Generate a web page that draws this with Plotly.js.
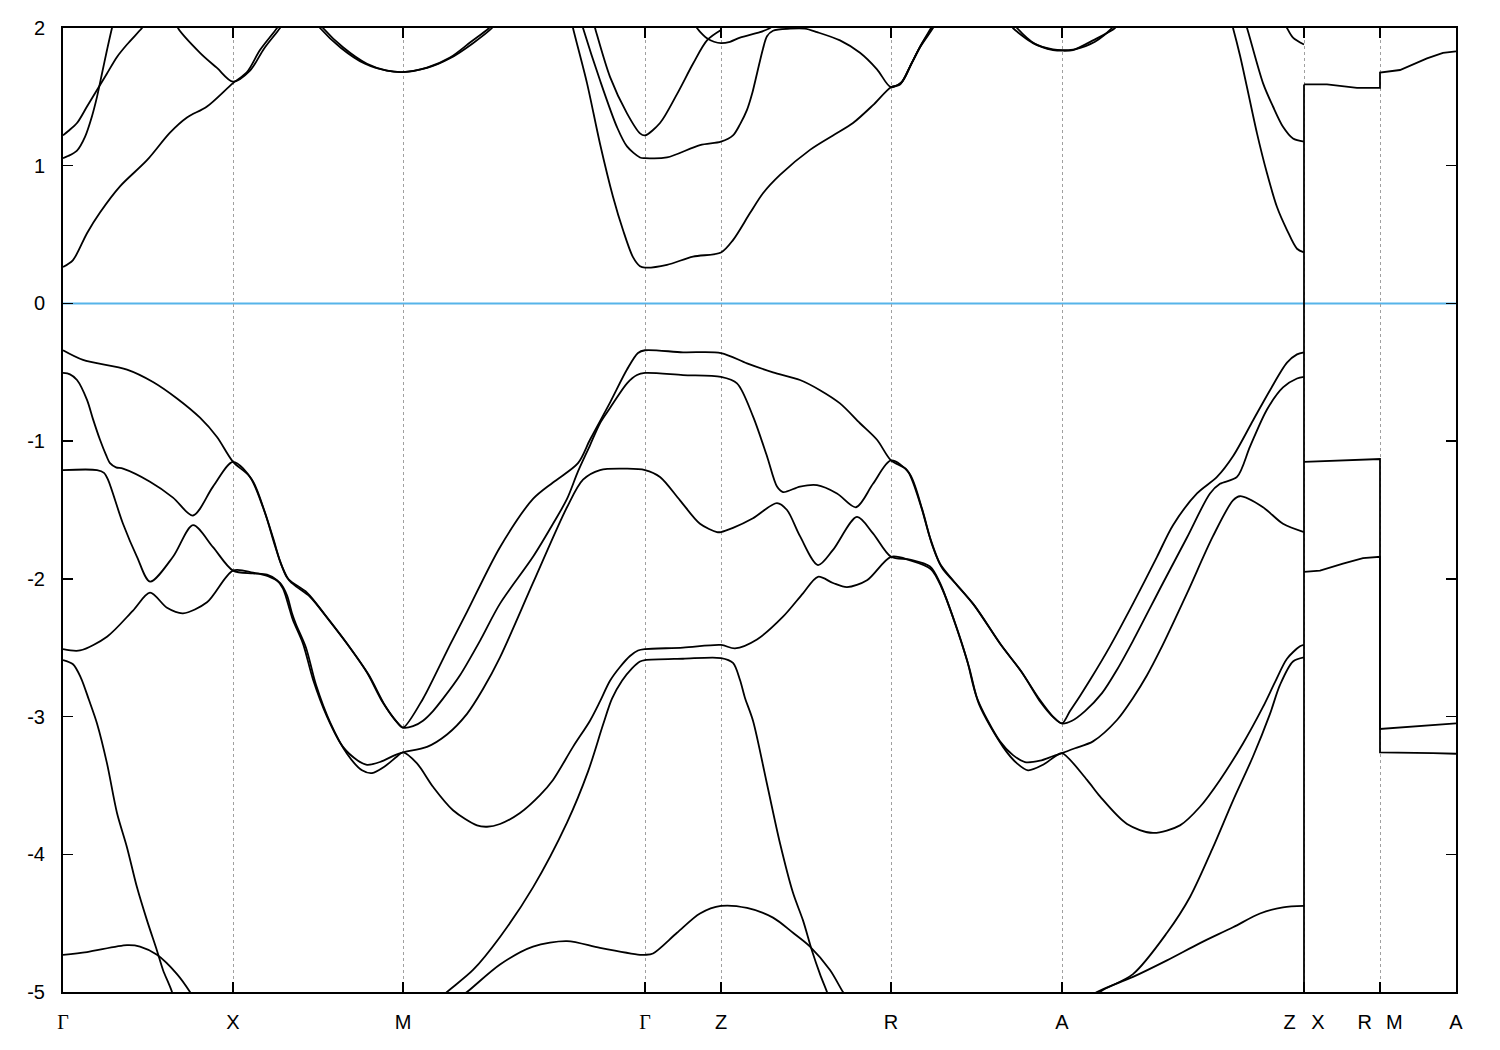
<!DOCTYPE html>
<html>
<head>
<meta charset="utf-8">
<script src="https://cdn.plot.ly/plotly-3.0.1.min.js"></script>
<style>html,body{margin:0;padding:0;background:#fff;}</style>
</head>
<body>
<div id="chart" style="width:1500px;height:1050px;"></div>
<script>
// ---- axis data ----
const kTicks = [0, 1.70, 3.40, 5.82, 6.58, 8.28, 9.99, 12.41, 13.17, 13.93];
const kLabels = ['<span style="font-family:Liberation Serif">Γ</span>','X','M','<span style="font-family:Liberation Serif">Γ</span>','Z','R','A','Z\u2002\u00a0X','R\u2002\u2009M','A'];
const eTicks = [-5, -4, -3, -2, -1, 0, 1, 2];
const eLabels = ['-5', '-4', '-3', '-2', '-1', '0', '1', '2'];
const fermiLevel = 0;

// ---- band segments: [k, E(eV)] ----
// Γ–X valence
const GX_v1 = [[0,-0.34],[0.20,-0.41],[0.64,-0.48],[0.90,-0.57],[1.14,-0.69],[1.37,-0.83],[1.54,-0.97],[1.70,-1.15]];
const GX_v2 = [[0,-0.505],[0.07,-0.515],[0.14,-0.556],[0.24,-0.70],[0.30,-0.84],[0.37,-0.99],[0.43,-1.10],[0.47,-1.16],[0.53,-1.19],[0.60,-1.20],[0.87,-1.295],[1.10,-1.41],[1.30,-1.54],[1.50,-1.33],[1.70,-1.15]];
const GX_v3 = [[0,-1.21],[0.34,-1.21],[0.41,-1.23],[0.45,-1.28],[0.60,-1.60],[0.74,-1.84],[0.87,-2.02],[1.10,-1.84],[1.30,-1.61],[1.50,-1.77],[1.70,-1.94]];
const GX_v4 = [[0,-2.51],[0.17,-2.52],[0.44,-2.42],[0.70,-2.23],[0.87,-2.10],[1.04,-2.21],[1.20,-2.25],[1.44,-2.17],[1.70,-1.94]];
const GX_v5 = [[0,-2.59],[0.10,-2.62],[0.18,-2.72],[0.26,-2.88],[0.34,-3.05],[0.44,-3.34],[0.54,-3.70],[0.64,-3.95],[0.74,-4.24],[0.84,-4.48],[0.94,-4.70],[1.00,-4.84],[1.09,-5.0],[1.12,-5.1]];
const GX_v6 = [[0,-4.73],[0.24,-4.71],[0.64,-4.66],[0.77,-4.67],[0.94,-4.73],[1.14,-4.87],[1.27,-5.0],[1.31,-5.05]];
// Γ–X conduction
const GX_c1 = [[0,0.265],[0.10,0.315],[0.24,0.51],[0.37,0.66],[0.57,0.85],[0.84,1.04],[1.07,1.24],[1.24,1.35],[1.44,1.43],[1.70,1.60]];
const GX_c2 = [[0,1.055],[0.05,1.07],[0.14,1.11],[0.22,1.21],[0.29,1.36],[0.34,1.50],[0.39,1.67],[0.44,1.84],[0.49,2.0],[0.52,2.08]];
const GX_c3 = [[0,1.22],[0.05,1.25],[0.14,1.31],[0.24,1.43],[0.34,1.55],[0.44,1.67],[0.54,1.79],[0.64,1.88],[0.79,2.0],[0.82,2.03]];
const GX_c4 = [[1.13,2.04],[1.15,2.0],[1.37,1.82],[1.54,1.71],[1.70,1.61]];
// X–M
const XM_c1 = [[1.70,1.61],[1.84,1.68],[1.97,1.84],[2.14,2.0],[2.17,2.04]];
const XM_c2 = [[1.70,1.61],[1.87,1.69],[2.01,1.85],[2.17,2.0],[2.20,2.04]];
const M_p1 = [[2.57,2.03],[2.60,2.0],[2.80,1.86],[3.04,1.74],[3.24,1.69],[3.40,1.68],[3.64,1.71],[3.87,1.78],[4.10,1.89],[4.29,2.0],[4.32,2.03]];
const M_p2 = [[2.54,2.03],[2.57,2.0],[2.78,1.855],[3.02,1.74],[3.24,1.69],[3.40,1.68],[3.64,1.712],[3.87,1.785],[4.08,1.90],[4.26,2.0],[4.29,2.03]];
const XM_v1a = [[1.70,-1.15],[1.87,-1.26],[2.00,-1.48],[2.10,-1.70],[2.17,-1.87],[2.24,-1.99],[2.30,-2.03],[2.44,-2.10],[2.64,-2.28],[2.87,-2.50],[3.04,-2.68],[3.20,-2.90],[3.34,-3.04],[3.40,-3.08]];
const XM_v1b = [[1.70,-1.15],[1.89,-1.28],[2.02,-1.52],[2.12,-1.76],[2.19,-1.91],[2.26,-2.01],[2.34,-2.06],[2.47,-2.13],[2.67,-2.31],[2.89,-2.52],[3.06,-2.70],[3.22,-2.92],[3.35,-3.05],[3.40,-3.08]];
const XM_v2a = [[1.70,-1.95],[1.90,-1.96],[2.04,-1.97],[2.14,-2.01],[2.20,-2.07],[2.27,-2.23],[2.30,-2.30],[2.40,-2.47],[2.50,-2.73],[2.64,-3.00],[2.80,-3.22],[2.95,-3.32],[3.04,-3.35],[3.17,-3.33],[3.32,-3.28],[3.40,-3.26]];
const XM_v2b = [[1.70,-1.95],[1.90,-1.955],[2.05,-1.98],[2.17,-2.03],[2.24,-2.12],[2.29,-2.25],[2.33,-2.33],[2.43,-2.50],[2.53,-2.77],[2.67,-3.04],[2.84,-3.27],[2.99,-3.39],[3.09,-3.41],[3.22,-3.36],[3.34,-3.29],[3.40,-3.26]];
// M–Γ
const MG_v1 = [[3.40,-3.08],[3.60,-2.87],[3.70,-2.73],[3.87,-2.48],[4.04,-2.24],[4.37,-1.77],[4.70,-1.42],[4.90,-1.30],[5.15,-1.16],[5.27,-0.99],[5.47,-0.72],[5.64,-0.48],[5.75,-0.36],[5.82,-0.34]];
const MG_v2 = [[3.40,-3.08],[3.50,-3.07],[3.60,-3.03],[3.70,-2.96],[3.80,-2.87],[3.97,-2.70],[4.17,-2.45],[4.37,-2.18],[4.70,-1.84],[4.90,-1.60],[5.04,-1.42],[5.15,-1.22],[5.27,-1.03],[5.37,-0.87],[5.47,-0.76],[5.64,-0.58],[5.74,-0.52],[5.82,-0.505]];
const MG_v3 = [[3.40,-3.26],[3.64,-3.22],[3.84,-3.13],[4.04,-2.98],[4.20,-2.80],[4.37,-2.57],[4.70,-2.03],[5.04,-1.48],[5.20,-1.28],[5.37,-1.21],[5.64,-1.20],[5.82,-1.21]];
const MG_v4 = [[3.40,-3.26],[3.54,-3.34],[3.70,-3.51],[3.90,-3.68],[4.14,-3.79],[4.24,-3.80],[4.37,-3.78],[4.57,-3.70],[4.77,-3.57],[4.90,-3.46],[5.10,-3.22],[5.27,-3.03],[5.37,-2.89],[5.47,-2.74],[5.57,-2.64],[5.67,-2.56],[5.75,-2.52],[5.82,-2.51]];
const MG_v5 = [[3.77,-5.05],[3.84,-5.0],[4.10,-4.84],[4.37,-4.60],[4.70,-4.24],[5.04,-3.77],[5.25,-3.40],[5.40,-3.06],[5.49,-2.87],[5.59,-2.74],[5.69,-2.65],[5.77,-2.60],[5.82,-2.59]];
const MG_v6 = [[3.94,-5.05],[4.04,-5.0],[4.37,-4.80],[4.70,-4.67],[5.04,-4.63],[5.37,-4.68],[5.77,-4.73],[5.82,-4.73]];
const MG_c1 = [[5.08,2.07],[5.10,2.0],[5.24,1.60],[5.37,1.16],[5.50,0.775],[5.60,0.533],[5.70,0.336],[5.77,0.27],[5.82,0.26]];
const MG_c2 = [[5.18,2.05],[5.20,2.0],[5.37,1.62],[5.54,1.28],[5.64,1.14],[5.77,1.06],[5.82,1.055]];
const MG_c3 = [[5.30,2.05],[5.32,2.0],[5.47,1.645],[5.64,1.38],[5.77,1.235],[5.82,1.22]];
// Γ–Z
const GZ_v1 = [[5.82,-0.34],[6.20,-0.355],[6.58,-0.36]];
const GZ_v2 = [[5.82,-0.505],[6.20,-0.52],[6.58,-0.534]];
const GZ_v3 = [[5.82,-1.21],[5.97,-1.26],[6.17,-1.43],[6.37,-1.60],[6.54,-1.66],[6.58,-1.66]];
const GZ_v4 = [[5.82,-2.51],[6.20,-2.50],[6.58,-2.48]];
const GZ_v5 = [[5.82,-2.59],[6.20,-2.58],[6.58,-2.575]];
const GZ_v6 = [[5.82,-4.73],[5.90,-4.72],[6.14,-4.57],[6.37,-4.43],[6.58,-4.375]];
const GZ_c1 = [[5.82,0.26],[6.04,0.28],[6.30,0.34],[6.58,0.37]];
const GZ_c2 = [[5.82,1.055],[6.04,1.06],[6.37,1.15],[6.58,1.175]];
const GZ_c3 = [[5.82,1.22],[5.97,1.31],[6.14,1.52],[6.30,1.74],[6.44,1.91],[6.58,1.985]];
const Z_top = [[6.32,2.03],[6.34,2.0],[6.40,1.95],[6.44,1.925],[6.51,1.90],[6.58,1.89],[6.67,1.90],[6.77,1.93],[6.97,1.97],[7.07,2.0],[7.10,2.02]];
// Z–R
const ZR_v1 = [[6.58,-0.36],[6.84,-0.435],[7.10,-0.50],[7.37,-0.556],[7.57,-0.63],[7.77,-0.726],[7.97,-0.87],[8.14,-0.99],[8.28,-1.14]];
const ZR_v2 = [[6.58,-0.534],[6.74,-0.58],[6.90,-0.82],[7.04,-1.11],[7.14,-1.33],[7.20,-1.37],[7.37,-1.33],[7.54,-1.32],[7.74,-1.38],[7.93,-1.48],[8.10,-1.31],[8.28,-1.14]];
const ZR_v3 = [[6.58,-1.66],[6.70,-1.63],[6.90,-1.56],[7.14,-1.45],[7.24,-1.50],[7.37,-1.69],[7.55,-1.90],[7.70,-1.79],[7.94,-1.55],[8.10,-1.67],[8.28,-1.84]];
const ZR_v4 = [[6.58,-2.48],[6.72,-2.505],[6.94,-2.44],[7.20,-2.275],[7.40,-2.105],[7.55,-1.985],[7.70,-2.03],[7.84,-2.06],[8.04,-2.01],[8.28,-1.84]];
const ZR_v5 = [[6.58,-2.575],[6.70,-2.61],[6.77,-2.735],[6.82,-2.865],[6.90,-3.03],[7.04,-3.49],[7.17,-3.92],[7.30,-4.28],[7.40,-4.48],[7.49,-4.70],[7.57,-4.87],[7.64,-5.0],[7.67,-5.06]];
const ZR_v6 = [[6.58,-4.375],[6.84,-4.39],[7.10,-4.46],[7.30,-4.57],[7.47,-4.67],[7.67,-4.84],[7.80,-5.0],[7.85,-5.05]];
const ZR_c1 = [[6.58,0.37],[6.70,0.46],[6.87,0.656],[7.00,0.80],[7.17,0.933],[7.47,1.115],[7.70,1.22],[7.90,1.31],[8.10,1.44],[8.28,1.57]];
const ZR_c2 = [[6.58,1.175],[6.70,1.22],[6.77,1.30],[6.84,1.405],[6.89,1.52],[6.94,1.67],[7.00,1.85],[7.04,1.94],[7.10,1.98],[7.27,1.995],[7.42,1.995],[7.54,1.97],[7.77,1.91],[7.97,1.82],[8.14,1.70],[8.28,1.57]];
// R–A
const RA_v1a = [[8.28,-1.14],[8.44,-1.21],[8.57,-1.45],[8.67,-1.70],[8.77,-1.89],[8.90,-2.01],[9.10,-2.18],[9.37,-2.47],[9.57,-2.66],[9.77,-2.88],[9.90,-3.00],[9.99,-3.05]];
const RA_v1b = [[8.28,-1.14],[8.46,-1.23],[8.59,-1.49],[8.69,-1.75],[8.79,-1.92],[8.92,-2.03],[9.12,-2.20],[9.39,-2.49],[9.59,-2.68],[9.78,-2.90],[9.91,-3.01],[9.99,-3.05]];
const RA_v2a = [[8.28,-1.84],[8.47,-1.86],[8.67,-1.91],[8.77,-2.03],[8.90,-2.28],[9.04,-2.59],[9.14,-2.865],[9.37,-3.18],[9.50,-3.28],[9.62,-3.33],[9.77,-3.32],[9.89,-3.29],[9.99,-3.265]];
const RA_v2b = [[8.28,-1.84],[8.47,-1.865],[8.68,-1.93],[8.79,-2.07],[8.92,-2.32],[9.06,-2.64],[9.16,-2.91],[9.40,-3.22],[9.54,-3.34],[9.65,-3.39],[9.80,-3.35],[9.92,-3.29],[9.99,-3.265]];
const RA_c1 = [[8.28,1.57],[8.37,1.59],[8.47,1.72],[8.57,1.86],[8.70,2.0],[8.73,2.04]];
const RA_c2 = [[8.28,1.57],[8.39,1.61],[8.49,1.75],[8.59,1.89],[8.68,2.0],[8.71,2.04]];
const RA_c3 = [[8.28,1.57],[8.38,1.60],[8.48,1.735],[8.58,1.875],[8.69,2.0],[8.72,2.04]];
const A_p1 = [[9.47,2.03],[9.50,2.0],[9.70,1.89],[9.90,1.84],[10.00,1.835],[10.10,1.84],[10.30,1.91],[10.52,2.0],[10.55,2.03]];
const A_p2 = [[9.51,2.03],[9.54,2.0],[9.72,1.885],[9.90,1.845],[10.00,1.84],[10.12,1.845],[10.32,1.90],[10.49,2.0],[10.52,2.03]];
// A–Z
const AZ_v1 = [[9.99,-3.05],[10.07,-2.96],[10.17,-2.85],[10.27,-2.735],[10.47,-2.49],[10.70,-2.18],[10.94,-1.84],[11.10,-1.61],[11.34,-1.38],[11.54,-1.26],[11.70,-1.11],[11.90,-0.85],[12.07,-0.63],[12.24,-0.43],[12.34,-0.37],[12.41,-0.355]];
const AZ_v2 = [[9.99,-3.05],[10.09,-3.03],[10.22,-2.96],[10.39,-2.83],[10.54,-2.66],[10.70,-2.45],[11.00,-2.03],[11.24,-1.70],[11.47,-1.38],[11.57,-1.31],[11.74,-1.26],[11.87,-1.04],[12.04,-0.77],[12.20,-0.61],[12.34,-0.545],[12.41,-0.534]];
const AZ_v3 = [[9.99,-3.265],[10.12,-3.23],[10.30,-3.18],[10.54,-3.025],[10.70,-2.865],[10.84,-2.70],[10.97,-2.52],[11.24,-2.105],[11.50,-1.69],[11.70,-1.43],[11.77,-1.40],[12.00,-1.48],[12.20,-1.60],[12.41,-1.66]];
const AZ_v4 = [[9.99,-3.265],[10.24,-3.46],[10.37,-3.58],[10.64,-3.78],[10.90,-3.845],[11.17,-3.79],[11.37,-3.655],[11.57,-3.46],[11.80,-3.195],[12.00,-2.93],[12.12,-2.75],[12.24,-2.58],[12.37,-2.49],[12.41,-2.48]];
const AZ_v5 = [[10.32,-5.05],[10.37,-5.0],[10.70,-4.87],[11.04,-4.57],[11.27,-4.31],[11.50,-3.95],[11.70,-3.61],[11.90,-3.29],[12.07,-2.98],[12.17,-2.77],[12.30,-2.60],[12.41,-2.57]];
const AZ_v6 = [[10.27,-5.04],[10.34,-5.0],[10.70,-4.89],[11.04,-4.77],[11.37,-4.645],[11.70,-4.53],[11.97,-4.43],[12.20,-4.385],[12.41,-4.375]];
const AZ_c1 = [[11.68,2.05],[11.70,2.0],[11.77,1.80],[11.84,1.57],[11.94,1.235],[12.04,0.945],[12.14,0.70],[12.24,0.533],[12.34,0.397],[12.41,0.37]];
const AZ_c2 = [[11.82,2.04],[11.84,2.0],[12.00,1.60],[12.10,1.43],[12.20,1.283],[12.30,1.198],[12.41,1.175]];
const AZ_c3 = [[12.22,2.03],[12.24,2.0],[12.30,1.93],[12.41,1.88]];
// X–R and M–A
const XR_1 = [[12.41,1.59],[12.64,1.59],[12.94,1.565],[13.17,1.565]];
const XR_2 = [[12.41,-1.15],[13.17,-1.13]];
const XR_3 = [[12.41,-1.95],[12.57,-1.94],[12.80,-1.89],[13.00,-1.85],[13.17,-1.84]];
const MA_1 = [[13.17,1.676],[13.37,1.695],[13.64,1.78],[13.80,1.82],[13.93,1.83]];
const MA_2 = [[13.17,-3.09],[13.93,-3.05]];
const MA_3 = [[13.17,-3.26],[13.70,-3.265],[13.93,-3.27]];
const jumpZX = [[12.41,-5.1],[12.41,1.59]];

// ---- build bands ----
const GAP = 'gap';
const smoothBands = [
  [GX_v1, XM_v1a, MG_v1, GZ_v1, ZR_v1, RA_v1a, AZ_v1],
  [GX_v2, XM_v1b, MG_v2, GZ_v2, ZR_v2, RA_v1b, AZ_v2],
  [GX_v3, XM_v2a, MG_v3, GZ_v3, ZR_v3, RA_v2a, AZ_v3],
  [GX_v4, XM_v2b, MG_v4, GZ_v4, ZR_v4, RA_v2b, AZ_v4],
  [GX_v5, GAP, MG_v5, GZ_v5, ZR_v5, GAP, AZ_v5],
  [GX_v6, GAP, MG_v6, GZ_v6, ZR_v6, GAP, AZ_v6],
  [GX_c1, XM_c1, GAP, MG_c1, GZ_c1, ZR_c1, RA_c1, GAP, AZ_c1],
  [GX_c2, GAP, GX_c4, XM_c2, GAP, M_p1, GAP, MG_c2, GZ_c2, ZR_c2, RA_c2, GAP, A_p1, GAP, AZ_c2],
  [GX_c3, GAP, M_p2, GAP, MG_c3, GZ_c3, GAP, Z_top, GAP, RA_c3, GAP, A_p2, GAP, AZ_c3]
];
const straightBands = [
  [XR_1, MA_1], [XR_2, MA_2], [XR_3, MA_3], [jumpZX]
];

function build(list, dedupe) {
  const x = [], y = [];
  let prevK = null;
  list.forEach(seg => {
    if (seg === GAP) { x.push(null); y.push(null); prevK = null; return; }
    seg.forEach((p, i) => {
      if (dedupe && i === 0 && prevK !== null && Math.abs(prevK - p[0]) < 1e-9) return;
      x.push(p[0]); y.push(p[1]);
    });
    prevK = seg[seg.length - 1][0];
  });
  return {x, y};
}

const traces = [];
smoothBands.forEach(b => {
  const d = build(b, true);
  traces.push({x: d.x, y: d.y, type: 'scatter', mode: 'lines', connectgaps: false,
    line: {color: '#000', width: 1.8, shape: 'spline', smoothing: 0.85},
    hoverinfo: 'skip', showlegend: false});
});
straightBands.forEach(b => {
  const d = build(b, false);
  traces.push({x: d.x, y: d.y, type: 'scatter', mode: 'lines',
    line: {color: '#000', width: 1.8, shape: 'linear'},
    hoverinfo: 'skip', showlegend: false});
});

const layout = {
  width: 1500, height: 1050,
  margin: {l: 63, r: 44, t: 28, b: 58, pad: 0},
  paper_bgcolor: '#fff', plot_bgcolor: '#fff',
  showlegend: false,
  font: {family: 'Liberation Sans, Arial, sans-serif', size: 20, color: '#000'},
  xaxis: {
    range: [0, 13.93], tickmode: 'array', tickvals: kTicks, ticktext: kLabels,
    ticks: 'inside', ticklen: 10, tickwidth: 1.5, tickcolor: '#000',
    showline: true, linecolor: '#000', linewidth: 2, mirror: 'ticks',
    showgrid: true, gridcolor: '#a0a0a0', griddash: 'dot', gridwidth: 1,
    zeroline: false, ticklabelstandoff: 11, fixedrange: true
  },
  yaxis: {
    range: [-5, 2], tickmode: 'array', tickvals: eTicks, ticktext: eLabels,
    ticks: 'inside', ticklen: 10, tickwidth: 1.5, tickcolor: '#000',
    showline: true, linecolor: '#000', linewidth: 2, mirror: 'ticks',
    showgrid: false, zeroline: false, ticklabelstandoff: 12, fixedrange: true
  },
  shapes: [{type: 'line', xref: 'paper', x0: 0, x1: 1, yref: 'y', y0: fermiLevel, y1: fermiLevel,
    line: {color: '#56B4E9', width: 2}, layer: 'below'}]
};

Plotly.newPlot('chart', traces, layout, {staticPlot: true, displayModeBar: false});
</script>
</body>
</html>
